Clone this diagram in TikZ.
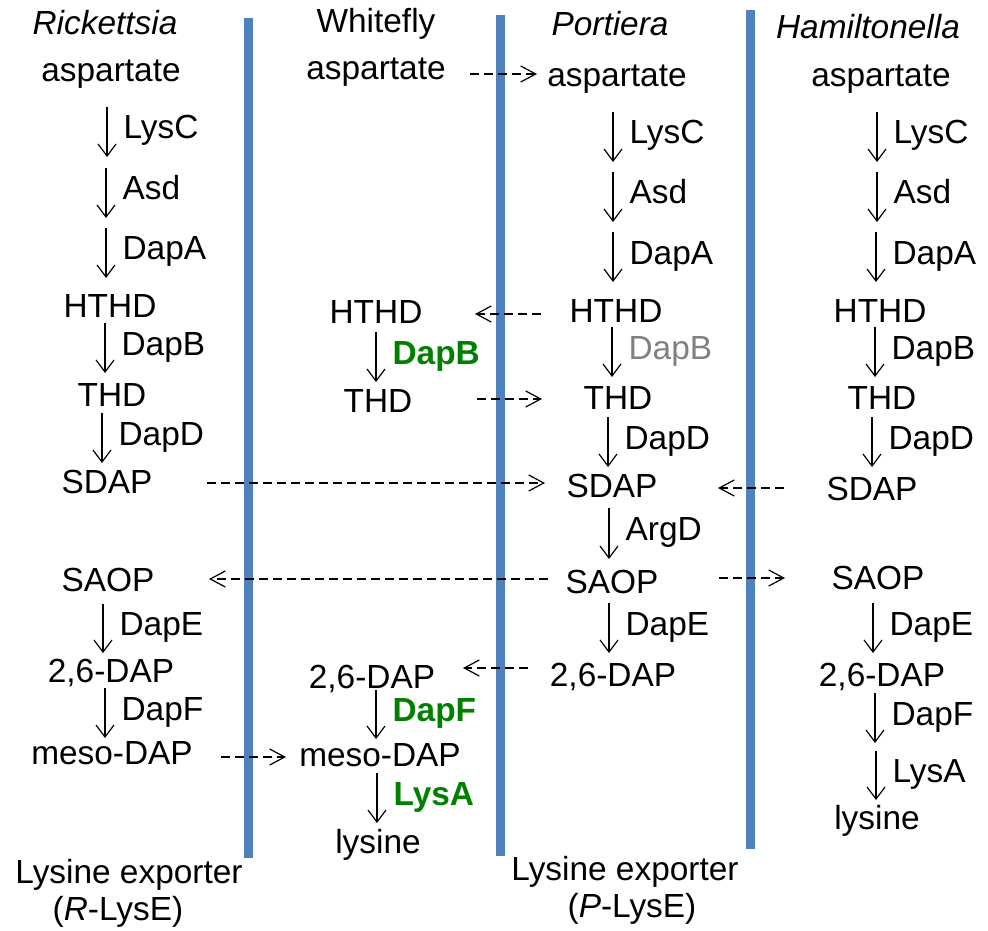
\documentclass[tikz,border=0pt]{standalone}
\usepackage{fontspec}
\setmainfont{Liberation Sans}
\usetikzlibrary{arrows.meta}

\definecolor{membrane}{RGB}{79,129,189}
\definecolor{gained}{RGB}{0,128,0}

\begin{document}
\begin{tikzpicture}[
    x=0.5pt, y=-0.5pt,
    met/.style={inner sep=0pt, anchor=base, font=\fontsize{16.7}{20}\selectfont},
    org/.style={met, font=\fontsize{16.7}{20}\selectfont\itshape},
    enz/.style={inner sep=0pt, anchor=base west, xshift=8pt, yshift=-3.5pt, font=\fontsize{16.7}{20}\selectfont},
    hostenz/.style={enz, text=gained, font=\fontsize{16.7}{20}\selectfont\bfseries},
    lostenz/.style={enz, text=gray},
    rxn/.style={-{Straight Barb[length=6pt, width=9pt]}, line width=0.6pt},
    flux/.style={-{Straight Barb[length=7.5pt, width=8pt]}, line width=0.6pt, dash pattern=on 4.5pt off 2.5pt}
]
    \useasboundingbox (0,0) rectangle (988,930);

    % Membranes
    \fill[membrane] (244,18) rectangle (253,858);
    \fill[membrane] (496,15) rectangle (505,856);
    \fill[membrane] (746,10) rectangle (755,849);

    % Rickettsia
    \node (rorg)  [org] at (105,35)  {Rickettsia};
    \node (rasp)  [met] at (111,82)  {aspartate};
    \node (rhthd) [met] at (110,317) {HTHD};
    \node (rthd)  [met] at (112,406) {THD};
    \node (rsdap) [met] at (107,493) {SDAP};
    \node (rsaop) [met] at (108,591) {SAOP};
    \node (rdap)  [met] at (111,682) {2,6-DAP};
    \node (rmeso) [met] at (112,764) {meso-DAP};
    \node (rexp)  [met] at (129,883) {Lysine exporter};
    \node (rlyse) [met] at (118,920) {(\textit{R}-LysE)};

    % Whitefly
    \node (worg)  [met] at (376,33)  {Whitefly};
    \node (wasp)  [met] at (376,80)  {aspartate};
    \node (whthd) [met] at (376,323) {HTHD};
    \node (wthd)  [met] at (378,412) {THD};
    \node (wdap)  [met] at (372,688) {2,6-DAP};
    \node (wmeso) [met] at (380,766) {meso-DAP};
    \node (wlys)  [met] at (378,853) {lysine};

    % Portiera
    \node (porg)  [org] at (610,36)  {Portiera};
    \node (pasp)  [met] at (617,87)  {aspartate};
    \node (phthd) [met] at (616,322) {HTHD};
    \node (pthd)  [met] at (618,409) {THD};
    \node (psdap) [met] at (612,497) {SDAP};
    \node (psaop) [met] at (612,593) {SAOP};
    \node (pdap)  [met] at (613,686) {2,6-DAP};
    \node (pexp)  [met] at (625,880) {Lysine exporter};
    \node (plyse) [met] at (632,917) {(\textit{P}-LysE)};

    % Hamiltonella
    \node (horg)  [org] at (868,39)  {Hamiltonella};
    \node (hasp)  [met] at (881,87)  {aspartate};
    \node (hhthd) [met] at (880,322) {HTHD};
    \node (hthd)  [met] at (882,409) {THD};
    \node (hsdap) [met] at (872,500) {SDAP};
    \node (hsaop) [met] at (878,589) {SAOP};
    \node (hdap)  [met] at (882,686) {2,6-DAP};
    \node (hlys)  [met] at (877,829) {lysine};

    % Enzyme steps
    \foreach \n/\x/\a/\b/\e in {
        r1/107/107/157/LysC, r2/106/168/218/Asd, r3/106/228/278/DapA,
        r4/105/323/373/DapB, r5/102/413/463/DapD, r6/103/604/653/DapE,
        r7/105/688/738/DapF,
        p1/613/112/162/LysC, p2/613/172/222/Asd, p3/613/232/282/DapA,
        p5/608/417/467/DapD, p6/609/508/559/ArgD, p7/609/603/653/DapE,
        h1/877/112/162/LysC, h2/877/172/222/Asd, h3/876/232/282/DapA,
        h4/875/327/377/DapB, h5/872/417/467/DapD, h6/873/603/653/DapE,
        h7/875/693/743/DapF, h8/876/751/800/LysA} {
        \coordinate (\n-a) at (\x,\a);
        \coordinate (\n-b) at (\x,\b);
        \draw[rxn] (\n-a) -- node[enz] {\e} (\n-b);
    }

    \coordinate (p4-a) at (612,327);
    \coordinate (p4-b) at (612,377);
    \draw[rxn] (p4-a) -- node[lostenz] {DapB} (p4-b);

    \foreach \n/\x/\a/\b/\e in {
        w1/376/332/382/DapB, w2/376/690/739/DapF, w3/377/773/823/LysA} {
        \coordinate (\n-a) at (\x,\a);
        \coordinate (\n-b) at (\x,\b);
        \draw[rxn] (\n-a) -- node[hostenz] {\e} (\n-b);
    }

    % Exchange across membranes
    \foreach \n/\xa/\xb/\y in {
        f1/470/537/74, f2/541/475/314, f3/477/542/399,
        f4/207/545/483, f5/784/718/488, f6/548/209/579,
        f7/719/785/578, f8/528/463/668, f9/221/286/757} {
        \coordinate (\n-a) at (\xa,\y);
        \coordinate (\n-b) at (\xb,\y);
        \draw[flux] (\n-a) -- (\n-b);
    }
\end{tikzpicture}
\end{document}
